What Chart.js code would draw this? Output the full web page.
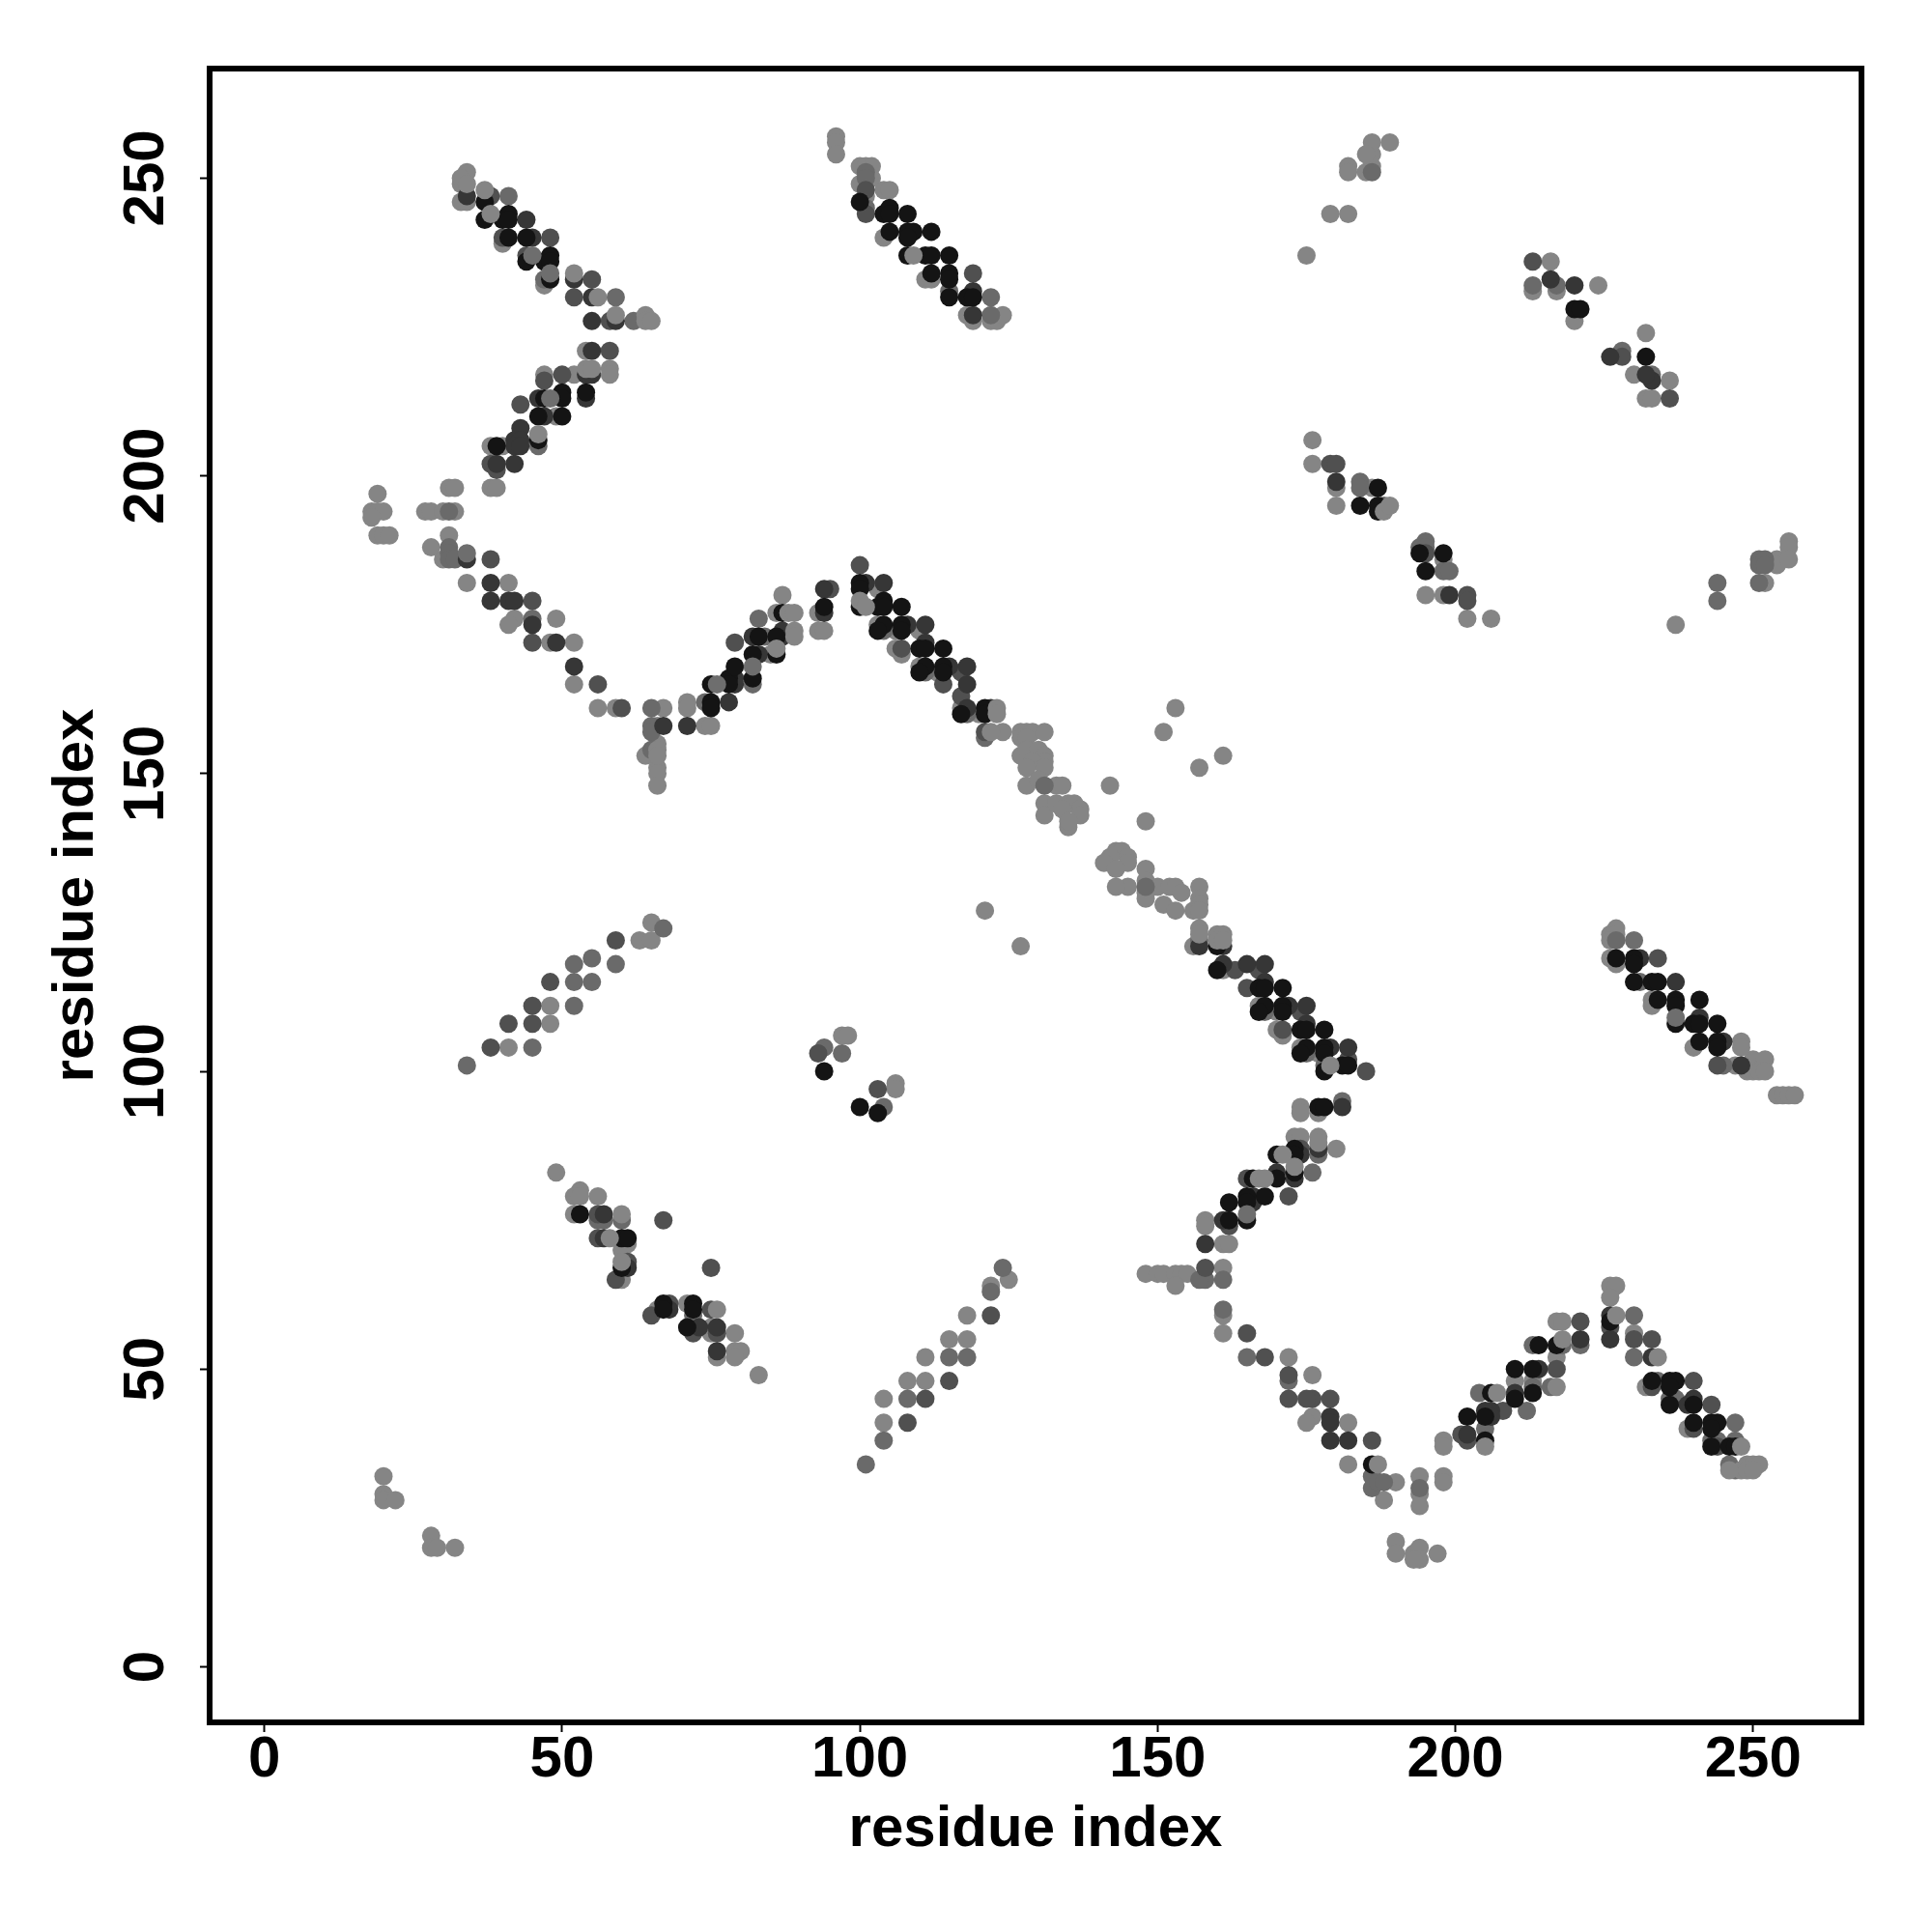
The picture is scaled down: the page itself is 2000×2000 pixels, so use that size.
<!DOCTYPE html>
<html>
<head>
<meta charset="utf-8">
<title>residue contact map</title>
<style>html,body{margin:0;padding:0;background:#fff}canvas{display:block}</style>
<script src="https://cdn.jsdelivr.net/npm/chart.js@4/dist/chart.umd.min.js"></script>
</head>
<body>
<canvas id="c" width="2000" height="2000"></canvas>
<script>
const axisLabel = "residue index";
const tickValues = [0, 50, 100, 150, 200, 250];

const lightBelow = [
[33,249],[33,246],[34,246],[40,239],[47,232],[54,221],[49,210],[38,205],[40,205],[38,198],[39,198],[31,198],[32,198],[52,217],[47,217],
[19,197],[18,194],[19,194],[20,194],[18,193],[19,190],[20,190],[21,190],[27,194],[28,194],[30,194],[32,194],[31,190],[28,188],[30,186],[34,182],[41,182],[42,176],[41,175],[49,176],[48,172],[52,172],[52,165],[56,161],[59,161],[67,161],[71,162],[71,161],[66,158],[74,158],[75,158],[66,155],[64,153],[66,151],[66,150],[66,148],
[85,170],[86,177],[87,180],[93,177],[93,174],[94,174],
[103,181],[103,175],[106,174],[110,174],[106,171],[107,170],[110,168],[113,167],[117,161],[120,160],[124,157],
[153,161],[151,157],[161,153],[157,151],[142,148],[148,142],[121,127],[127,121],
[127,157],[128,157],[129,157],[131,157],[127,156],[128,156],[127,153],[128,154],[130,154],[131,153],[131,152],[129,152],[128,151],[131,151],[128,148],[133,148],[134,148],[130,149],[131,145],[131,143],[133,145],[135,145],[136,145],[137,144],[134,144],[135,141],[137,143],[135,142],
[143,137],[144,137],[142,136],[141,135],[145,136],[145,135],[143,134],[145,131],[143,131],[148,134],[148,132],[148,130],[148,129],[150,131],[152,131],[153,131],[154,130],[151,128],[153,127],[157,131],[157,129],[157,128],[156,127],[157,127],[156,121],
[161,117],[167,111],[170,110],[170,107],[171,106],[174,104],[177,103],
[174,94],[174,93],[177,93],[173,89],[174,89],[180,87],[158,75],[158,74],[161,71],[162,71],[161,67],[148,66],[150,66],[151,66],[153,66],[154,66],[155,66],[153,64],[161,59],[161,56],[172,52],
[176,49],[176,42],[175,41],[182,41],[182,34],[188,28],[190,31],[194,32],[194,29],[194,27],[198,32],[198,31],[190,21],[190,19],[193,19],[194,20],[194,18],[193,18],[197,19],[198,38],[198,37],[210,48],[213,48],[217,52],[217,58],[218,58],[226,64],[227,64],[226,62],[230,56],[232,47],[239,40],
[96,257],[96,256],[96,254],[100,252],[101,252],[102,252],[100,249],[102,250],[101,247],[104,248],[105,248],[104,240],[111,233],[112,233],[118,227],[119,226],[122,226],[123,226],[124,227],
[49,83],[53,80],[52,79],[53,79],[56,79],[52,76],[61,71],[60,70],[60,65],[66,60],[71,61],[75,57],[75,56],[76,52],[79,56],[79,53],[80,53],[79,52],[83,49],
[226,123],[227,124],[227,123],[226,122],[226,119],[227,118],[233,112],[233,111],[240,104],[247,101],[250,102],[252,102],[249,100],[250,100],[251,100],[252,100],[248,105],[248,104],[254,96],[255,96],[256,96],[257,96],
[176,206],[176,202],[180,198],[180,195],[186,198],[198,186],[195,180],[198,180],[202,176],[206,176],[237,175],[254,186],[254,185],[256,189],[256,188],[256,186],[252,182],
[41,104],[48,108],[48,111],[63,122],[65,122],[65,125],[104,41],[104,45],[108,48],[111,52],[111,48],[115,55],[118,55],[118,59],[125,65],[122,64],[97,106],[98,106],[106,98],[106,97],
[20,32],[20,29],[20,28],[22,28],[28,22],[28,20],[29,20],[32,20],
[175,237],[179,244],[182,244],[182,252],[182,251],[185,251],[186,252],[186,254],[186,256],[189,256],[185,254],
[216,236],[213,231],[217,231],[220,226],[224,232],[232,213],[233,213],[236,216],[230,217],[232,224]
];

const grayMarks = [
[41,247],[47,233],[59,230],[62,226],[46,205],[45,176],[31,194],[31,188],[31,187],[31,186],[32,186],[65,161],[65,158],[65,157],[65,154],
[74,162],[82,165],[83,176],[84,173],[104,174],[111,167],[118,160],[121,156],[131,148],[148,131],[157,122],[168,110],[175,103],[178,101],
[181,95],[177,86],[176,83],[161,65],[158,65],[157,65],[161,60],[165,52],[172,48],[186,32],[186,30],[187,31],[188,31],[194,30],[204,46],[205,40],[212,43],[213,54],[213,47],[216,47],[218,54],[221,54],[230,59],[230,52],[234,48],[236,45],[237,45],[243,38],[244,38],[247,41],[247,38],[246,34],[247,33],
[101,251],[101,250],[101,245],[115,231],[122,230],[122,227],
[56,75],[57,75],[60,75],[72,59],[227,122],[231,115],[245,101],[184,199],[184,198],[198,184],[199,184],[195,189],[194,188],[195,188],[188,195],[244,182],[244,179],[251,186],[251,185],[252,186],[252,185],[251,182],
[34,101],[45,104],[52,111],[52,115],[52,118],[55,115],[55,119],[59,118],[67,124],[101,34],[104,38],[108,45],[115,52],[118,52],[122,63],[124,67],[94,104],[97,103],[104,94],[186,251],[213,232],[217,232],[228,221],[233,217]
];

const midMarks = [
[38,247],[48,240],[55,233],[52,230],[58,226],[58,221],[50,217],[47,216],[43,212],[38,202],[39,201],[44,237],[40,240],
[38,186],[45,179],[45,172],[56,165],[60,161],[79,172],[95,181],[100,185],[107,171],[114,165],[117,167],[117,163],[121,157],
[163,117],[167,117],[165,114],[174,110],[171,107],[182,102],[185,100],[174,87],[165,82],[172,79],[162,74],[158,67],[165,56],[168,52],[172,49],[172,45],[176,45],[179,45],[175,45],[186,38],[201,39],[202,38],[208,43],[217,50],[221,58],[226,57],[230,55],[233,55],[233,47],[240,48],[243,44],[240,40],[244,37],
[101,248],[101,244],[119,234],[56,76],[56,72],[61,68],[59,65],[65,59],[68,61],[67,75],[75,67],[75,60],[72,56],[76,56],
[234,119],[244,101],[179,202],[180,202],[195,187],[202,180],[202,179],
[38,104],[41,108],[45,108],[45,111],[48,115],[59,122],[108,41],[111,45],[115,48],[122,59],[93,103],[103,97],[213,236],[228,220],[236,213]
];

const darkMarks = [
[34,247],[45,240],[52,233],[55,230],[59,226],[55,226],[55,221],[54,217],[55,217],[54,213],[46,213],[47,210],[43,208],[42,206],[43,206],[42,205],[43,205],[39,202],[42,202],[44,243],
[34,186],[38,182],[38,179],[41,179],[42,179],[45,175],[49,172],[52,168],[67,158],[71,158],
[78,162],[79,166],[79,165],[82,173],[83,170],[87,173],[87,174],[94,177],[94,181],
[101,182],[104,182],[108,175],[111,175],[111,172],[115,168],[118,168],[118,165],[118,161],[122,161],
[157,121],[161,121],[161,118],[165,118],[168,118],[168,115],[172,111],[175,111],[175,108],[179,104],[182,104],
[181,94],[177,87],[174,86],[170,83],[173,82],[166,79],[166,78],[161,75],[158,71],
[179,42],[179,41],[179,38],[182,38],[202,39],[206,43],[205,43],[206,42],[210,46],[214,50],[221,55],[226,59],[226,55],[233,52],[240,45],[239,44],
[57,76],[57,72],[61,67],[73,57],[76,57],[76,53],[68,60],[119,227],[119,231],[231,119],[237,115],[241,109],[245,105],[248,101],[180,199],[199,180],
[216,233],[233,216],[232,217],[226,220],[220,232]
];

const blackMarks = [
[37,246],[37,243],[41,244],[40,243],[41,243],[41,240],[44,240],[44,236],[47,236],[48,237],[48,236],[48,233],[54,214],[47,213],[50,214],[50,213],[46,210],[50,210],[46,206],[39,205],
[75,162],[75,161],[75,165],[78,166],[78,165],[79,168],[82,166],[83,173],[82,170],[86,170],[86,173],[87,177],[94,178],
[100,182],[100,181],[100,178],[103,178],[104,179],[104,178],[107,178],[104,175],[103,174],[107,175],[107,174],[110,171],[111,171],[114,171],[111,168],[110,167],[114,168],[114,167],[117,160],[121,161],[121,160],
[160,121],[160,117],[167,114],[168,114],[171,114],[168,111],[167,110],[171,111],[171,110],[174,107],[175,107],[175,104],[174,103],[178,107],[178,104],[178,103],[178,100],[181,101],[182,101],
[177,94],[178,94],[173,87],[170,86],[173,86],[173,83],[170,82],[166,82],[168,79],[165,79],[165,78],[162,78],[162,75],[165,75],
[186,34],[202,42],[205,38],[205,42],[206,46],[210,50],[210,45],[213,50],[214,54],[213,46],[217,54],[226,58],[233,48],[236,48],[237,48],[236,47],[236,44],[240,44],[240,41],[243,41],[244,41],[243,40],[243,37],[246,37],[247,37],
[100,246],[104,244],[105,245],[105,244],[108,244],[105,241],[108,241],[109,241],[108,240],[112,241],[108,237],[111,237],[112,237],[115,237],[112,234],[115,234],[115,233],[115,230],[118,230],[119,230],
[53,76],[60,72],[61,72],[60,67],[67,61],[67,60],[72,61],[72,60],[71,57],
[227,119],[230,119],[230,118],[230,115],[233,115],[234,115],[234,112],[237,112],[237,111],[241,112],[237,108],[240,108],[241,108],[244,108],[241,105],[244,105],[244,104],
[187,198],[184,195],[187,195],[187,194],[194,187],[198,187],[195,184],
[94,100],[100,94],[103,93],[220,228],[221,228],[232,220]
];

const grayAbove = [
[45,237],[48,234],[48,213],[34,187],[76,165],[82,168],[165,76],[237,109],[230,122]
];

const lightAbove = [
[34,251],[33,250],[34,249],[37,248],[38,244],[52,234],[56,230],[59,227],[64,227],[64,226],[65,226],[54,218],[55,218],[58,218],[58,217],[46,207],[66,154],[66,153],
[86,171],[88,177],[89,177],[89,174],[89,173],[100,179],[101,178],[122,157],[123,161],[123,160],
[157,124],[157,123],[160,123],[161,123],[160,122],[161,122],[179,101],
[177,89],[177,88],[171,86],[173,84],[167,82],[168,82],
[187,34],[207,46],[205,37],[218,55],[227,59],[234,52],[248,37],[248,33],[249,34],[250,34],[251,34],[249,33],[250,33],[246,33],
[109,237],[60,76],[60,68],[58,72],[76,60],[188,194],[189,195],[217,47]
];

const layers = [
  { label: "light below", points: lightBelow, shade: "#858585" },
  { label: "gray", points: grayMarks, shade: "#6a6a6a" },
  { label: "mid", points: midMarks, shade: "#505050" },
  { label: "dark", points: darkMarks, shade: "#363636" },
  { label: "black", points: blackMarks, shade: "#141414" },
  { label: "gray above", points: grayAbove, shade: "#6e6e6e" },
  { label: "light above", points: lightAbove, shade: "#858585" }
];

const font = { family: "'Liberation Sans', Arial, sans-serif", size: 60, weight: "bold" };

const boxPlugin = {
  id: "box",
  afterDraw(chart) {
    const a = chart.chartArea, g = chart.ctx;
    g.save();
    g.strokeStyle = "#000";
    g.lineWidth = 6;
    g.strokeRect(a.left, a.top, a.right - a.left, a.bottom - a.top);
    g.restore();
  }
};

function axisOptions(min, max) {
  return {
    type: "linear",
    min, max,
    afterBuildTicks(s) { s.ticks = tickValues.map(v => ({ value: v })); },
    grid: { display: true, drawOnChartArea: false, drawTicks: true, tickLength: 10, tickWidth: 2, tickColor: "#000" },
    border: { display: false },
    ticks: { color: "#000", font, autoSkip: false, callback: v => String(v) },
    title: { display: true, text: axisLabel, color: "#000", font }
  };
}

const xAxis = axisOptions(-9.2, 268.2);
xAxis.position = "bottom";
xAxis.afterFit = s => { s.height = 217; };
xAxis.ticks.maxRotation = 0;
xAxis.ticks.minRotation = 0;
xAxis.ticks.padding = -7;
xAxis.title.padding = { top: 0, bottom: 70 };

const yAxis = axisOptions(-9.33, 268.4);
yAxis.position = "left";
yAxis.afterFit = s => { s.width = 217; };
yAxis.ticks.minRotation = 90;
yAxis.ticks.maxRotation = 90;
yAxis.ticks.crossAlign = "center";
yAxis.ticks.padding = 4;
yAxis.title.padding = { top: 43, bottom: 0 };

new Chart(document.getElementById("c"), {
  type: "scatter",
  data: {
    datasets: layers.map((l, i) => ({
      label: l.label,
      data: l.points.map(p => ({ x: p[0], y: p[1] })),
      backgroundColor: l.shade,
      borderWidth: 0,
      pointRadius: 9.5,
      order: layers.length - i
    }))
  },
  options: {
    responsive: false,
    animation: false,
    events: [],
    layout: { padding: { left: 0, top: 71, right: 73, bottom: 0 } },
    plugins: { legend: { display: false }, tooltip: { enabled: false }, title: { display: false } },
    scales: { x: xAxis, y: yAxis }
  },
  plugins: [boxPlugin]
});
</script>
</body>
</html>
